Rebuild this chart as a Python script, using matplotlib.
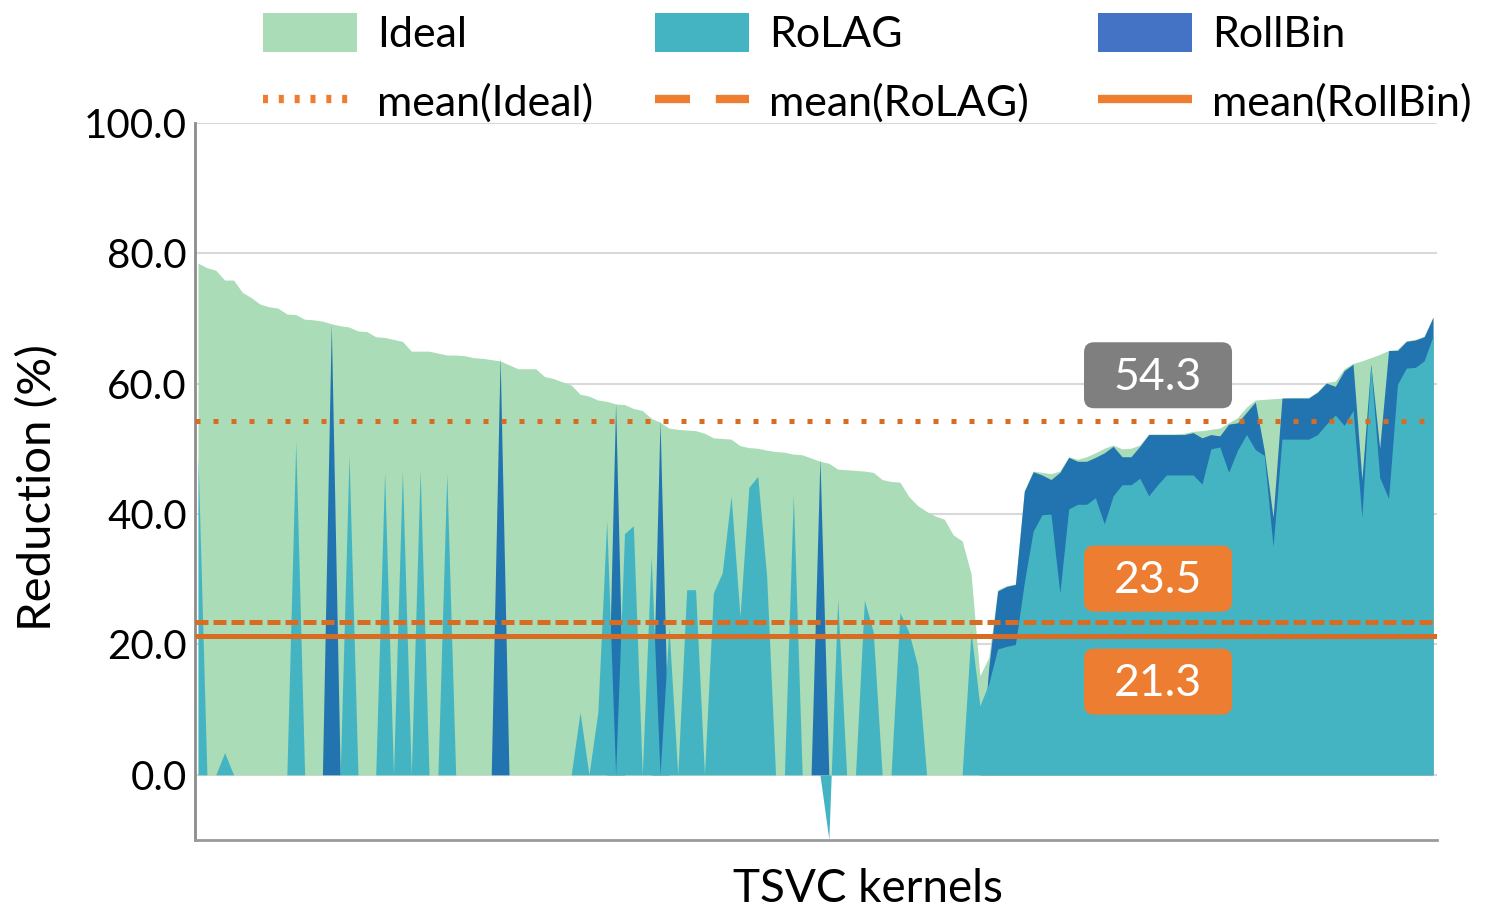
import numpy as np
import matplotlib
matplotlib.use('Agg')
import matplotlib.pyplot as plt
from matplotlib.patches import Patch, FancyBboxPatch
from matplotlib.lines import Line2D
from matplotlib.ticker import FormatStrFormatter
import matplotlib.transforms as mtransforms

plt.rcParams['font.family'] = ['Lato', 'DejaVu Sans']

# ---------------- data ----------------
ideal = [78.5, 77.8, 77.4, 75.9, 75.9, 74.0, 73.2, 72.2, 71.8, 71.6,
         70.7, 70.6, 69.9, 69.8, 69.6, 69.2, 68.9, 68.7, 68.1, 68.0,
         67.2, 67.1, 66.8, 66.5, 65.0, 65.0, 65.0, 64.7, 64.4, 64.4,
         64.3, 64.0, 63.9, 63.7, 63.5, 62.9, 62.3, 62.3, 62.3, 61.1,
         60.8, 60.3, 59.8, 58.4, 58.1, 57.5, 57.3, 56.9, 56.8, 56.2,
         55.9, 54.7, 54.1, 53.2, 53.0, 52.9, 52.8, 52.4, 51.7, 51.6,
         51.5, 50.5, 50.2, 50.1, 49.8, 49.6, 49.5, 49.2, 49.1, 48.6,
         48.1, 47.8, 46.9, 46.8, 46.7, 46.6, 46.4, 45.3, 45.0, 44.9,
         42.7, 41.3, 40.4, 39.7, 39.2, 36.8, 35.9, 30.9, 15.2, 18.0,
         28.4, 29.0, 29.3, 43.6, 46.6, 46.4, 46.2, 46.6, 48.8, 48.4,
         48.8, 49.4, 50.1, 50.6, 50.0, 50.1, 50.6, 52.3, 52.3, 52.3,
         52.3, 52.4, 52.7, 52.8, 53.0, 53.2, 54.0, 54.8, 56.4, 57.5,
         57.6, 57.7, 57.8, 57.9, 57.9, 57.9, 58.8, 60.2, 60.4, 62.3,
         63.1, 63.5, 64.0, 64.5, 65.1, 65.3, 66.6, 66.8, 67.3, 70.2]

rolag = [48.8, 0, 0, 3.4, 0, 0, 0, 0, 0, 0,
         0, 51.1, 0, 0, 0, 0, 0, 49.0, 0, 0,
         0, 46.4, 0, 46.6, 0, 46.7, 0, 0, 46.2, 0,
         0, 0, 0, 0, 0, 0, 0, 0, 0, 0,
         0, 0, 0, 9.6, 0, 9.6, 39.0, 0, 37.0, 38.2,
         0, 33.5, 0, 22.6, 0, 28.4, 28.4, 0, 27.9, 31.0,
         42.8, 24.3, 44.1, 45.8, 30.5, 0, 0, 42.9, 0, 0,
         0, -9.9, 27.0, 0, 0, 26.8, 21.9, 0, 0, 24.9,
         21.9, 16.7, 0, 0, 0, 0, 0, 22.0, 10.6, 14.0,
         19.3, 19.7, 20.0, 29.5, 37.4, 39.9, 40.0, 27.9, 40.8, 41.5,
         41.5, 42.5, 38.5, 42.8, 44.5, 44.5, 45.5, 42.8, 44.5, 46.0,
         46.0, 46.0, 46.0, 44.6, 50.0, 50.3, 46.4, 49.8, 52.2, 49.9,
         49.0, 35.0, 51.5, 51.5, 51.5, 51.5, 52.2, 53.8, 55.2, 53.6,
         55.9, 39.5, 62.8, 45.6, 42.4, 59.9, 62.4, 62.5, 63.5, 67.3]

rollbin = [0, 0, 0, 0, 0, 0, 0, 0, 0, 0,
           0, 0, 0, 0, 0, 69.2, 0, 0, 0, 0,
           0, 0, 0, 0, 0, 0, 0, 0, 0, 0,
           0, 0, 0, 0, 64.2, 0, 0, 0, 0, 0,
           0, 0, 0, 0, 0, 0, 0, 57.0, 0, 0,
           0, 0, 54.4, 0, 0, 0, 0, 0, 0, 0,
           0, 0, 0, 0, 0, 0, 0, 0, 0, 0,
           48.6, 0, 0, 0, 0, 0, 0, 0, 0, 0,
           0, 0, 0, 0, 0, 0, 0, 0, 0, 16.5,
           28.2, 28.9, 29.2, 43.5, 46.5, 46.0, 45.3, 46.4, 48.7, 48.1,
           48.1, 48.7, 49.4, 50.4, 48.8, 48.8, 50.4, 52.2, 52.2, 52.2,
           52.2, 52.2, 52.5, 51.7, 52.2, 52.0, 53.8, 54.0, 55.6, 57.2,
           49.8, 39.5, 57.8, 57.8, 57.8, 57.8, 58.7, 60.1, 59.6, 62.0,
           63.0, 45.3, 63.0, 50.1, 65.1, 65.1, 66.5, 66.7, 67.2, 70.2]

series_names = ['Ideal', 'RoLAG', 'RollBin']
mean_values = [54.3, 23.5, 21.3]          # labels shown on the chart
mean_labels = ['54.3', '23.5', '21.3']
yticks = [0, 20, 40, 60, 80, 100]

# ---------------- styles ----------------
C_IDEAL = '#a9dcb7'
C_ROLAG = '#45b4c2'
C_ROLLBIN_AREA = '#2274b1'
C_ROLLBIN_LEG = '#4472c4'
C_MEAN = '#d96c23'
C_MEAN_LEG = '#ed7d31'
C_GRAY_BOX = '#7f7f7f'

W, H = 1489, 911
fig = plt.figure(figsize=(W / 100, H / 100), dpi=100)
ax = fig.add_axes([195 / W, 1 - 840 / H, (1437 - 195) / W, (840 - 123) / H])

x = np.arange(len(ideal))
ax.fill_between(x, 0, ideal, color=C_IDEAL, lw=0, zorder=1)
ax.fill_between(x, 0, rollbin, color=C_ROLLBIN_AREA, lw=0, zorder=2)
ax.fill_between(x, 0, rolag, color=C_ROLAG, lw=0, zorder=3)

ax.set_xlim(-0.34, len(ideal) - 1 + 0.45)
ax.set_ylim(-10, 100)
ax.set_yticks(yticks)
ax.yaxis.set_major_formatter(FormatStrFormatter('%.1f'))
ax.set_xticks([])
ax.tick_params(axis='y', length=0, pad=6, labelsize=29)
ax.grid(axis='y', color='#d9d9d9', lw=1.5)
ax.set_axisbelow(True)
for s in ['top', 'right']:
    ax.spines[s].set_visible(False)
ax.spines['left'].set_color('#8c8c8c')
ax.spines['left'].set_linewidth(2)
ax.spines['bottom'].set_color('#9a9a9a')
ax.spines['bottom'].set_linewidth(2)

# mean lines
styles = [(0, (1, 2.6)), (0, (2.6, 1.0)), '-']
for mv, ls in zip(mean_values, styles):
    ax.axhline(mv, color=C_MEAN, lw=3.6, linestyle=ls, dash_capstyle='butt',
               solid_capstyle='butt', zorder=4)

# value boxes
box_x = 108.05
box_y = [61.3, 30.1, 14.3]
box_colors = [C_GRAY_BOX, C_MEAN_LEG, C_MEAN_LEG]
for lab, by, bc in zip(mean_labels, box_y, box_colors):
    tr = fig.dpi_scale_trans + mtransforms.ScaledTranslation(box_x, by, ax.transData)
    p = FancyBboxPatch((-0.74, -0.33), 1.48, 0.66,
                       boxstyle='round,pad=0,rounding_size=0.1',
                       transform=tr, facecolor=bc, edgecolor='none', zorder=5)
    ax.add_patch(p)
    ax.text(box_x, by - 0.3, lab, color='white', fontsize=32, ha='center',
            va='center', zorder=6)

# axis labels
fig.text(38 / W, 1 - 488 / H, 'Reduction (%)', rotation=90, ha='center',
         va='center', fontsize=34)
fig.text(868 / W, 1 - 889 / H, 'TSVC kernels', ha='center', va='center',
         fontsize=33)

# legends (three columns, two rows each)
patch_handles = [Patch(facecolor=C_IDEAL, edgecolor='none'),
                 Patch(facecolor=C_ROLAG, edgecolor='none'),
                 Patch(facecolor=C_ROLLBIN_LEG, edgecolor='none')]
leg_styles = [(0, (0.6, 1.3)), (0, (4.2, 3.1)), '-']
line_handles = [Line2D([], [], color=C_MEAN_LEG, lw=6, linestyle=ls,
                       dash_capstyle='butt', solid_capstyle='butt')
                for ls in leg_styles]
col_x = [263, 655, 1098]
for cx, ph, lh, name in zip(col_x, patch_handles, line_handles, series_names):
    fig.legend([ph, lh], [name, f'mean({name})'], loc='center left',
               bbox_to_anchor=(cx / W, 1 - 68 / H), frameon=False,
               fontsize=31, handlelength=2.18, handleheight=1.02,
               handletextpad=0.46, labelspacing=0.63, borderpad=0,
               borderaxespad=0)

fig.savefig('out.png', dpi=100)
